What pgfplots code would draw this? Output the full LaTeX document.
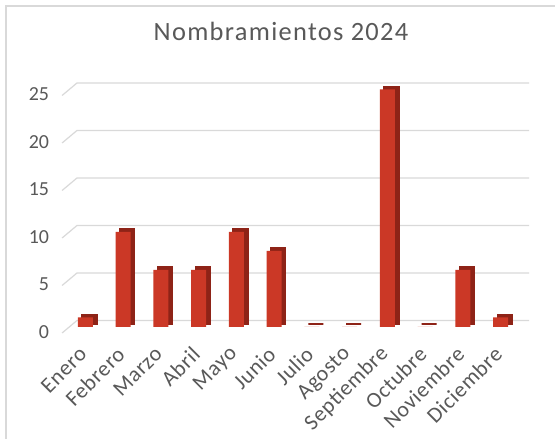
\documentclass[border=0pt]{standalone}
\usepackage{fontspec}
\setmainfont{Carlito}
\newfontfamily\titlefont[LetterSpace=5]{Carlito}
\newfontfamily\labelfont[LetterSpace=3]{Carlito}
\usepackage{pgfplots}
\pgfplotsset{compat=1.18}
\definecolor{txt}{HTML}{595959}
\definecolor{gridc}{HTML}{D9D9D9}
\definecolor{barfront}{HTML}{CB3826}
\definecolor{barside}{HTML}{8E2317}
\begin{document}
\begin{tikzpicture}[x=1bp,y=1bp]
\useasboundingbox (0,0) rectangle (555,439);
\fill[white] (0,0) rectangle (555,439);
\draw[gridc, line width=1.5bp] (6,0) -- (6,433) -- (555,433);
\node[anchor=base, text=txt, inner sep=0pt, font=\titlefont\fontsize{26.5}{31}\selectfont] at (281,398) {Nombramientos 2024};
\begin{axis}[
  at={(66.6bp,112bp)}, anchor=south west,
  scale only axis, width=453bp, height=237.5bp,
  xmin=-0.5, xmax=11.5, ymin=0, ymax=25,
  axis line style={draw=none}, tick style={draw=none},
  ybar, bar width=15bp,
  xtick={0,...,11},
  xticklabels={Enero,Febrero,Marzo,Abril,Mayo,Junio,Julio,Agosto,Septiembre,Octubre,Noviembre,Diciembre},
  ytick={0,5,10,15,20,25},
  clip=false,
  /pgf/number format/assume math mode=true,
  tick label style={text=txt},
  yticklabel style={font=\fontsize{20}{24}\selectfont, xshift=-14bp, yshift=-5bp, anchor=east},
  xticklabel style={font=\labelfont\fontsize{22}{26}\selectfont, xshift=0bp, yshift=-17bp, rotate=45, anchor=east},
]
\pgfplotsinvokeforeach{0,5,10,15,20,25}{
  \draw[gridc, line width=1.2bp] ([yshift=-6bp]axis cs:-0.62,#1) -- ([yshift=6.5bp]axis cs:-0.225,#1) -- ([yshift=6.5bp]axis cs:11.75,#1);
}
\addplot[fill=barside, draw=barside, line width=1.4bp, bar shift=0pt, xshift=4bp, yshift=3bp]
  coordinates {(0,1) (1,10) (2,6) (3,6) (4,10) (5,8) (6,0) (7,0) (8,25) (9,0) (10,6) (11,1)};
\addplot[fill=barfront, draw=none, bar shift=0pt]
  coordinates {(0,1) (1,10) (2,6) (3,6) (4,10) (5,8) (6,0) (7,0) (8,25) (9,0) (10,6) (11,1)};
\end{axis}
\end{tikzpicture}
\end{document}
